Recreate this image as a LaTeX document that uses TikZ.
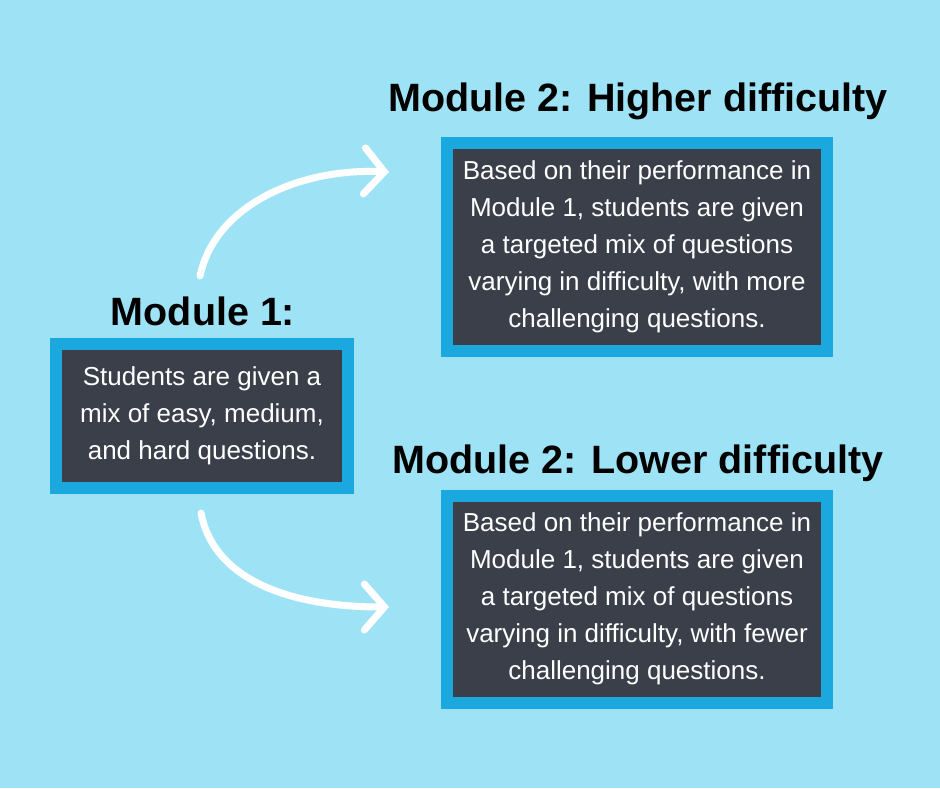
\documentclass[tikz,border=0pt]{standalone}
\usepackage{fontspec}
\setmainfont{Liberation Sans}
\usetikzlibrary{arrows.meta}
\definecolor{bg}{HTML}{9DE3F5}
\definecolor{bord}{HTML}{1BA8DF}
\definecolor{dark}{HTML}{3A3F4A}
\begin{document}
\begin{tikzpicture}[x=1pt,y=-1pt,
  box/.style={draw=bord,line width=12pt,fill=dark,text=white,align=center,inner sep=0pt,
    font=\fontsize{26}{37}\selectfont},
  title/.style={font=\fontsize{39.5}{44}\selectfont\bfseries,text=black},
  arr/.style={draw=white,line width=7pt,line cap=round,
    -{Straight Barb[length=20pt,width=46pt,line cap=round]}}]
\fill[bg] (0,0) rectangle (940,788);
\useasboundingbox (0,0) rectangle (940,788);
\node[box,minimum width=292pt,minimum height=144pt] (m1) at (202,416)
 {Students are given a\\mix of easy, medium,\\and hard questions.};
\node[box,minimum width=380pt,minimum height=208pt] (hi) at (637,247)
 {Based on their performance in\\Module 1, students are given\\a targeted mix of questions\\varying in difficulty, with more\\challenging questions.};
\node[box,minimum width=380pt,minimum height=207pt] (lo) at (637,599)
 {Based on their performance in\\Module 1, students are given\\a targeted mix of questions\\varying in difficulty, with fewer\\challenging questions.};
\node[title] (t1) at (203,311) {Module 1:};
\node[title] (t2) at (638,101) {Module 2: Higher difficulty};
\node[title] (t3) at (638,463) {Module 2: Lower difficulty};
\coordinate (a1) at (200,276);
\coordinate (a2) at (389,172);
\coordinate (b1) at (201,513);
\coordinate (b2) at (389,607);
\draw[arr] (a1) .. controls (215,205) and (300,168) .. (a2);
\draw[arr] (b1) .. controls (215,585) and (300,607) .. (b2);
\end{tikzpicture}
\end{document}
